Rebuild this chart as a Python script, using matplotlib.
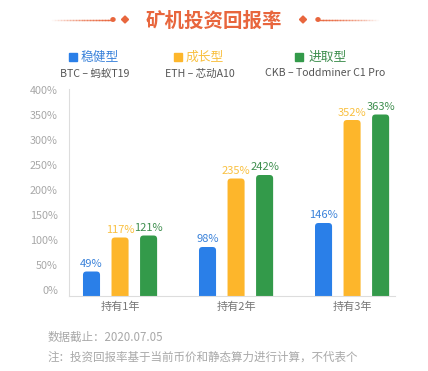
#!/usr/bin/env python3
"""Mining machine ROI chart (grouped bars)."""

import numpy as np
import matplotlib
matplotlib.use('Agg')
import matplotlib.pyplot as plt
import matplotlib.transforms as mtransforms
from matplotlib.patches import FancyBboxPatch, Rectangle, Circle, Polygon

plt.rcParams['font.family'] = ['Noto Sans CJK SC', 'DejaVu Sans']

# data
periods = ['持有1年', '持有2年', '持有3年']
series_names = ['稳健型', '成长型', '进取型']
series_miners = ['BTC – 蚂蚁T19', 'ETH – 芯动A10', 'CKB – Toddminer C1 Pro']
roi_steady = [49, 98, 146]
roi_growth = [117, 235, 352]
roi_aggressive = [121, 242, 363]
yticks = [0, 50, 100, 150, 200, 250, 300, 350, 400]

bar_colors = ['#2A7FE8', '#FDB62B', '#339A4A']
label_colors = ['#3A82DA', '#F9C040', '#3E8E4E']
GRAY = '#A8A8A8'
TITLE_RED = '#E8663D'

W, H = 428, 371
fig = plt.figure(figsize=(W / 100, H / 100), dpi=100)


def fx(px):
    return px / W


def fy(py):
    return 1 - py / H


# title + decoration
fig.text(0.5, fy(21), '矿机投资回报率', ha='center', va='center',
         fontsize=14, fontweight='bold', color=TITLE_RED)
for x0, x1, fade_left in [(52, 111, True), (320, 378, False)]:
    xs = np.linspace(x0, x1, 21)
    for i in range(20):
        a = (i + 1) / 20 if fade_left else 1 - i / 20
        fig.add_artist(plt.Line2D([fx(xs[i]), fx(xs[i + 1])], [fy(19.5), fy(19.5)],
                                  color=TITLE_RED, lw=1, alpha=a * 0.9))
for cx in (113, 318):
    fig.add_artist(Circle((fx(cx), fy(19.5)), 2.0 / W, transform=fig.transFigure,
                          color=TITLE_RED))
for cx in (125, 303):
    d = 3.5
    fig.add_artist(Polygon([(fx(cx - d), fy(19.5)), (fx(cx), fy(19.5 - d)),
                            (fx(cx + d), fy(19.5)), (fx(cx), fy(19.5 + d))],
                           closed=True, transform=fig.transFigure, color=TITLE_RED))

# legend
legend_sq_x = [69, 174, 295]
legend_txt_x = [81, 186, 309]
sub_x = [95, 200, 325]
for i in range(3):
    fig.add_artist(Rectangle((fx(legend_sq_x[i]), fy(61)), 8 / W, 8 / H,
                             transform=fig.transFigure, color=bar_colors[i]))
    fig.text(fx(legend_txt_x[i]), fy(57), series_names[i], ha='left', va='center',
             fontsize=9.2, color=label_colors[i])
    fig.text(fx(sub_x[i]), fy(73.5), series_miners[i], ha='center', va='center',
             fontsize=7.6, color='#555555')

# axes
ax = fig.add_axes([fx(69), fy(296), fx(395) - fx(69), fy(89) - fy(296)])
x = np.arange(len(periods))
width = 0.147
offset = 0.246
px_per_unit_x = (395 - 69) / 2.81
px_per_unit_y = 0.5
aspect = (1 / px_per_unit_y) / (1 / px_per_unit_x)

for i, vals in enumerate([roi_steady, roi_growth, roi_aggressive]):
    xs = x + (i - 1) * offset
    for xc, v in zip(xs, vals):
        p = FancyBboxPatch((xc - width / 2, -10), width, v + 10,
                           boxstyle='round,pad=0,rounding_size=0.03',
                           mutation_aspect=aspect, fc=bar_colors[i], ec='none')
        ax.add_patch(p)
        ax.text(xc, v + 5, f'{v}%', ha='center', va='bottom', fontsize=8,
                color=label_colors[i], fontweight='medium')

ax.set_xlim(-0.44, 2.37)
ax.set_ylim(0, 207 / px_per_unit_y)
ax.set_yticks(yticks)
ax.set_yticklabels([f'{t}%' for t in yticks], fontsize=7.8, color=GRAY)
ax.set_xticks(x)
ax.set_xticklabels(periods, fontsize=8, color='#777777')
ax.tick_params(axis='both', length=0)
ax.tick_params(axis='y', pad=8)
ax.tick_params(axis='x', pad=4)
shift = mtransforms.ScaledTranslation(0, 6 / 100, fig.dpi_scale_trans)
for lbl in ax.get_yticklabels():
    lbl.set_transform(lbl.get_transform() + shift)
for s in ['top', 'right']:
    ax.spines[s].set_visible(False)
for s in ['left', 'bottom']:
    ax.spines[s].set_color('#DDDDDD')
    ax.spines[s].set_linewidth(0.8)

# footnote
fig.text(fx(48), fy(337), '数据截止：2020.07.05', ha='left', va='center',
         fontsize=8.3, color=GRAY)
fig.text(fx(48), fy(357), '注：投资回报率基于当前币价和静态算力进行计算，不代表个',
         ha='left', va='center', fontsize=8.3, color=GRAY)

fig.savefig('out.png', dpi=100)
